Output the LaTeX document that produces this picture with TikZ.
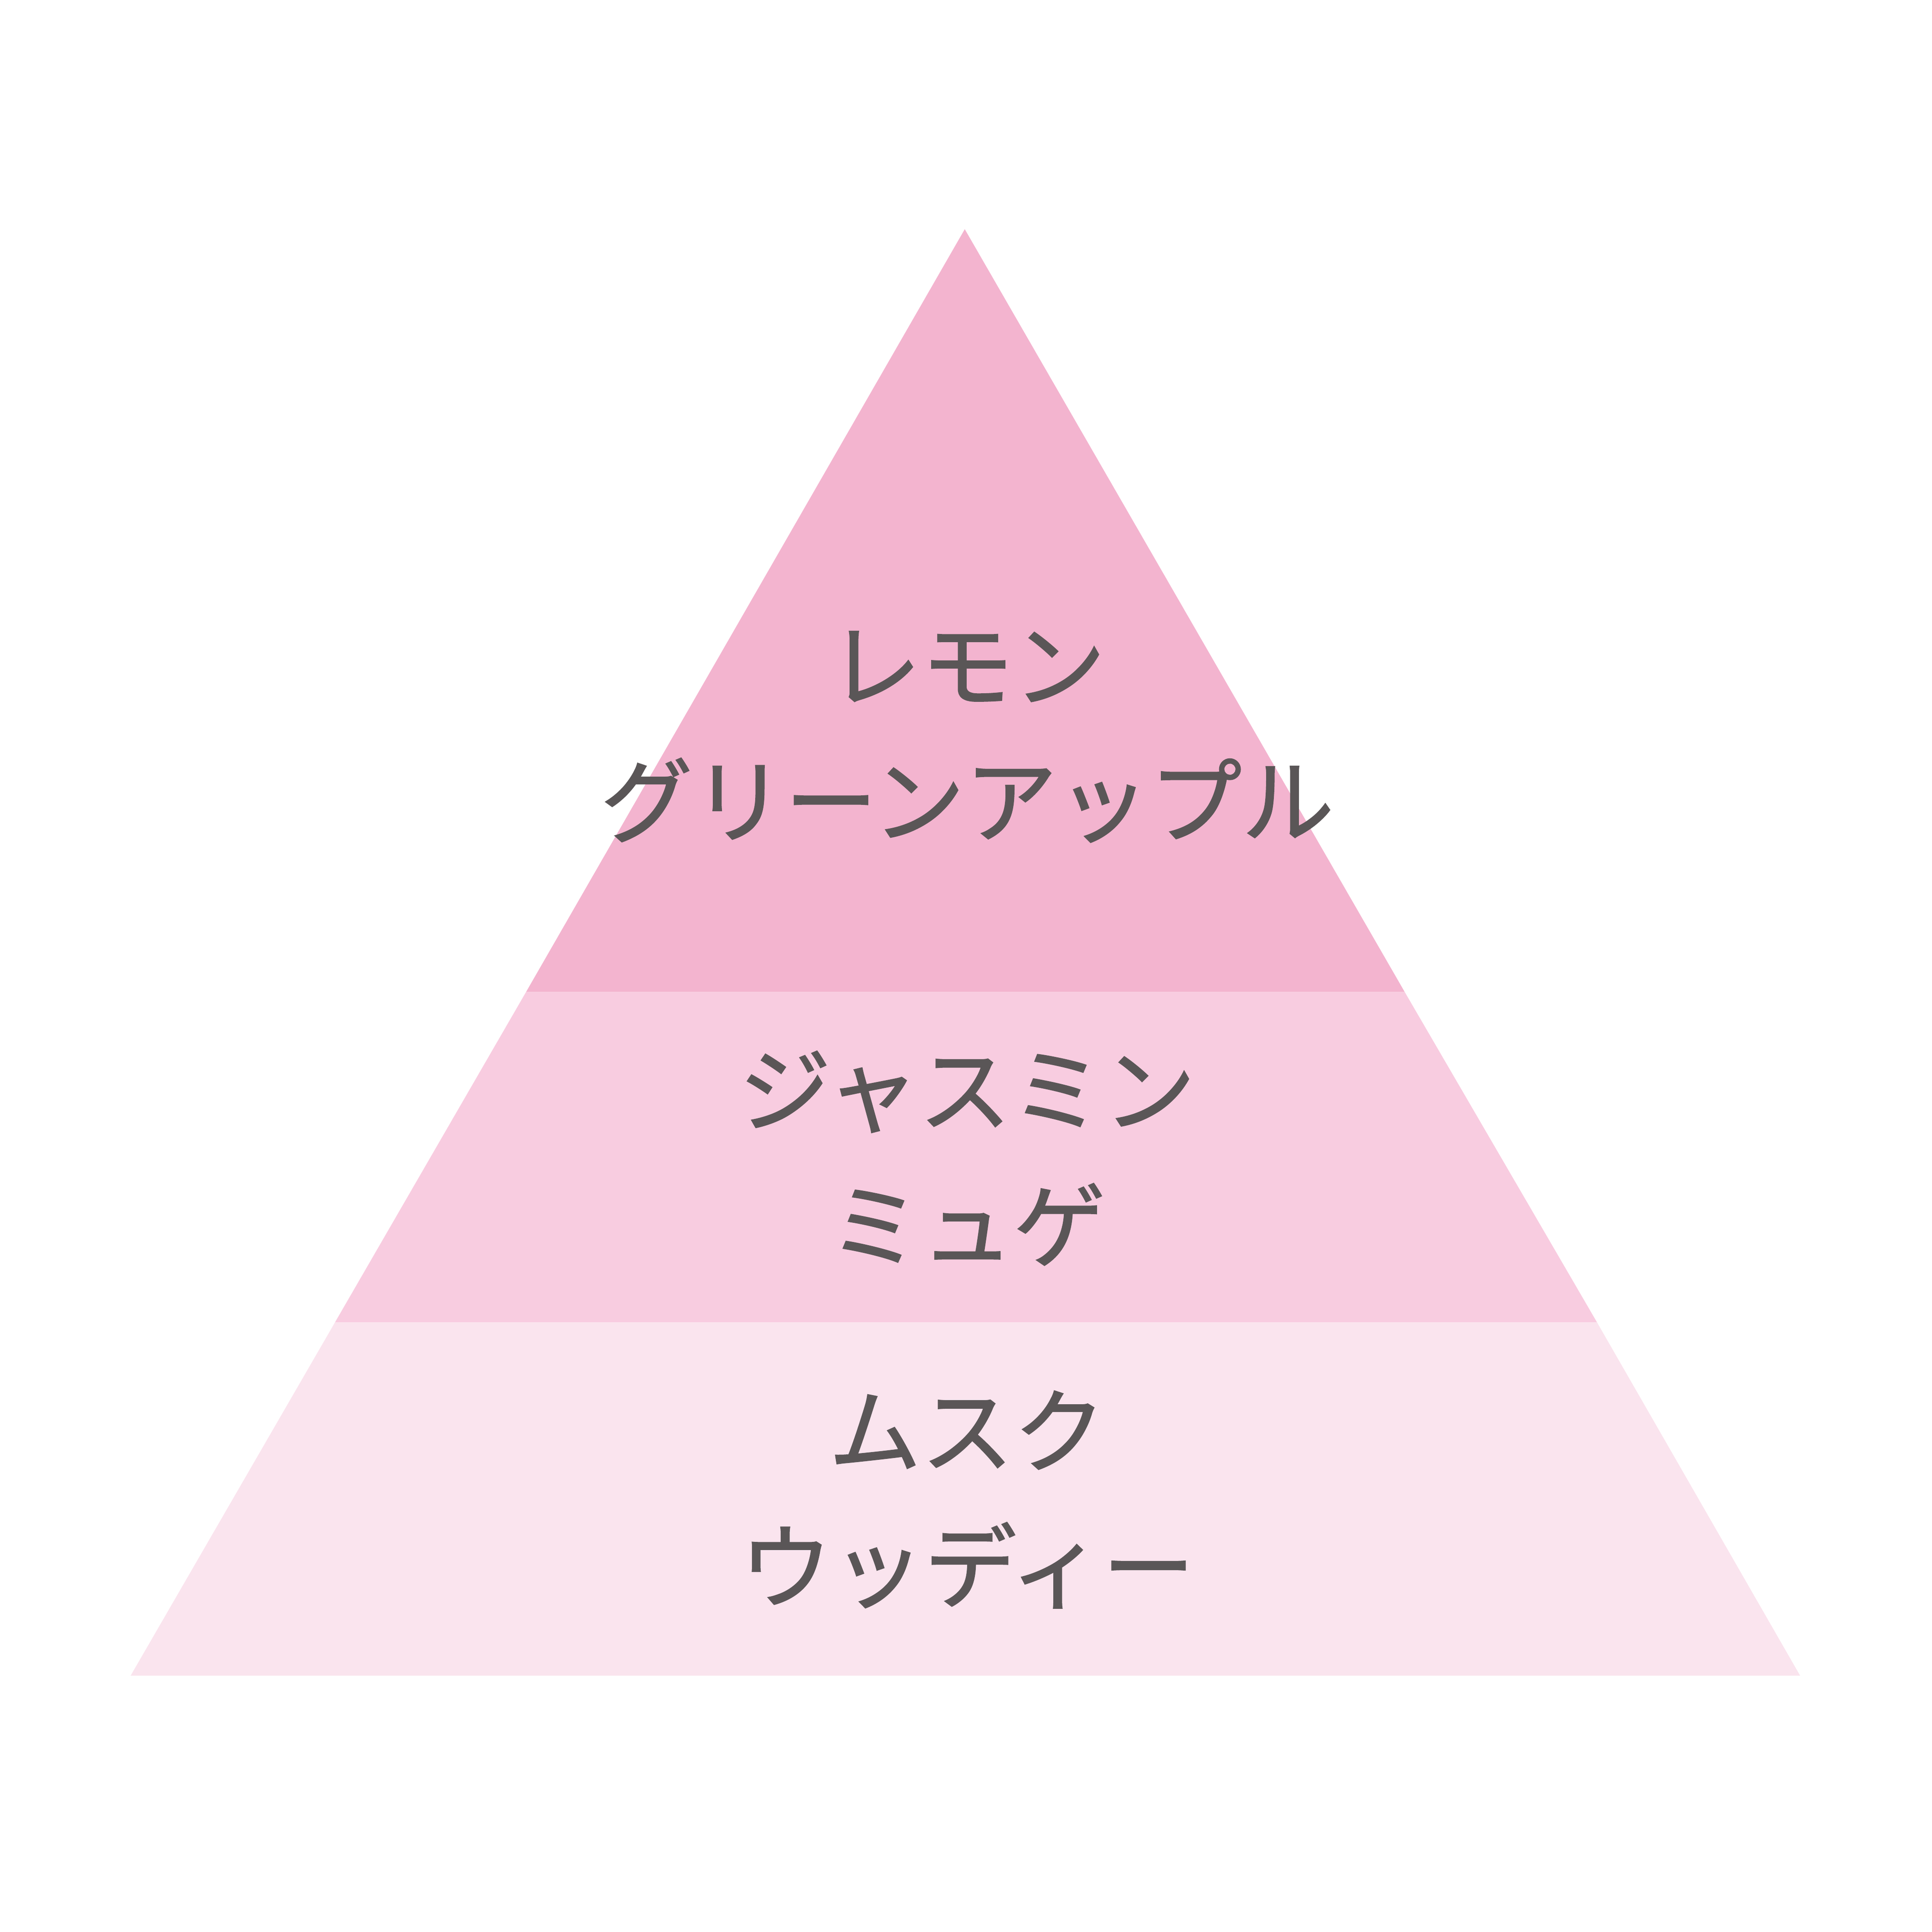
\documentclass[tikz,border=0pt]{standalone}
\usepackage{fontspec}
\newfontfamily\jpfont[FakeBold=1.2]{Noto Sans CJK JP}
\definecolor{topnote}{HTML}{F3B4CF}
\definecolor{midnote}{HTML}{F8CCE0}
\definecolor{basenote}{HTML}{FAE4EE}
\definecolor{notetext}{HTML}{5A5657}

\begin{document}
\begin{tikzpicture}[x=0.01cm, y=-0.01cm,
	note/.style={text=notetext, align=center, font=\jpfont\fontsize{21.3}{31.3}\selectfont}]
	
	\useasboundingbox (0,0) rectangle (1568,1568);
	
	\fill [basenote]    (272,1073) -- (1296,1073) -- (1461,1360) -- (106,1360) -- cycle;
	\fill [midnote]     (427, 805) -- (1140, 805) -- (1296,1073) -- (272,1073) -- cycle;
	\fill [topnote]     (783, 186) -- (1140, 805) -- (427, 805) -- cycle;
	
	\node [note] (top)  at (785, 598) {レモン\\グリーンアップル};
	\node [note] (mid)  at (785, 940) {ジャスミン\\ミュゲ};
	\node [note] (base) at (785,1217) {ムスク\\ウッディー};
	
\end{tikzpicture}
\end{document}
